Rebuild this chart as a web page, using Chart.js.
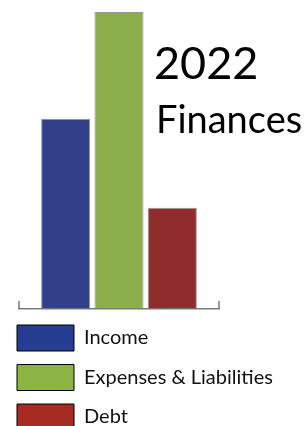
<!DOCTYPE html>
<html>
<head>
<meta charset="utf-8">
<script src="https://cdn.jsdelivr.net/npm/chart.js@4/dist/chart.umd.min.js"></script>
<style>
  html, body { margin: 0; padding: 0; background: #ffffff; overflow: hidden; width: 307px; height: 426px; }
  #wrap { position: absolute; left: 0; top: 0; width: 307px; height: 440px; }
</style>
</head>
<body>
<div id="wrap"><canvas id="c" width="307" height="440"></canvas></div>
<script>
// ---- data ----
const categories = ['2022'];
const seriesNames = ['Income', 'Expenses & Liabilities', 'Debt'];
const incomeValues = [64];
const expensesValues = [100];
const debtValues = [34];
const titleLines = ['2022', 'Finances'];

// ---- styles ----
const barColors = ['#30418A', '#8DAE4C', '#8E2D2B'];
const legendColors = ['#263E92', '#8BB443', '#A52A22'];
const FONT = 'Lato, "Open Sans", sans-serif';

const titlePlugin = {
  id: 'sideTitle',
  afterDraw(chart) {
    const ctx = chart.ctx;
    ctx.save();
    ctx.fillStyle = '#000000';
    ctx.textAlign = 'left';
    ctx.textBaseline = 'alphabetic';
    ctx.font = '45px ' + FONT;
    ctx.fillText(titleLines[0], 154, 79);
    ctx.font = '38px ' + FONT;
    ctx.fillText(titleLines[1], 156, 133);
    ctx.restore();
  }
};

const endTicksPlugin = {
  id: 'endTicks',
  afterDatasetsDraw(chart) {
    const x = chart.scales.x;
    const ctx = chart.ctx;
    ctx.save();
    ctx.strokeStyle = '#7a7a7a';
    ctx.lineWidth = 1.5;
    ctx.beginPath();
    [x.left, x.right].forEach(px => {
      ctx.moveTo(px, x.top - 7.5);
      ctx.lineTo(px, x.top);
    });
    ctx.stroke();
    ctx.restore();
  }
};

const seriesValues = [incomeValues, expensesValues, debtValues];

new Chart(document.getElementById('c'), {
  type: 'bar',
  data: {
    labels: categories,
    datasets: seriesNames.map((name, i) => ({
      label: name,
      data: seriesValues[i],
      backgroundColor: barColors[i],
      borderColor: 'rgba(95,95,95,0.65)',
      borderWidth: 1,
      categoryPercentage: 0.8,
      barPercentage: 0.92
    }))
  },
  options: {
    responsive: false,
    animation: false,
    devicePixelRatio: 1,
    layout: { padding: { left: 3.5, right: 0, top: 12, bottom: 0 } },
    scales: {
      x: {
        ticks: { display: false },
        grid: { display: false, drawTicks: false },
        border: { display: true, color: '#7a7a7a', width: 1.5 },
        afterFit(scale) { scale.height = 3; }
      },
      y: {
        min: 0,
        max: 100,
        ticks: { display: false },
        grid: { display: false, drawTicks: false },
        border: { display: false },
        afterFit(scale) { scale.width = 15.5; }
      },
      yRight: {
        position: 'right',
        min: 0,
        max: 100,
        ticks: { display: false },
        grid: { display: false, drawTicks: false },
        border: { display: false },
        afterFit(scale) { scale.width = 88; }
      }
    },
    plugins: {
      title: { display: false },
      tooltip: { enabled: false },
      legend: {
        position: 'bottom',
        align: 'start',
        labels: {
          boxWidth: 57,
          boxHeight: 26,
          padding: 13.5,
          color: '#111111',
          font: { family: FONT, size: 20 },
          generateLabels(chart) {
            return chart.data.datasets.map((ds, i) => ({
              text: ds.label,
              fillStyle: legendColors[i],
              strokeStyle: '#000000',
              lineWidth: 1,
              hidden: false,
              datasetIndex: i,
              fontColor: '#111111'
            }));
          }
        }
      }
    }
  },
  plugins: [titlePlugin, endTicksPlugin]
});
</script>
</body>
</html>
